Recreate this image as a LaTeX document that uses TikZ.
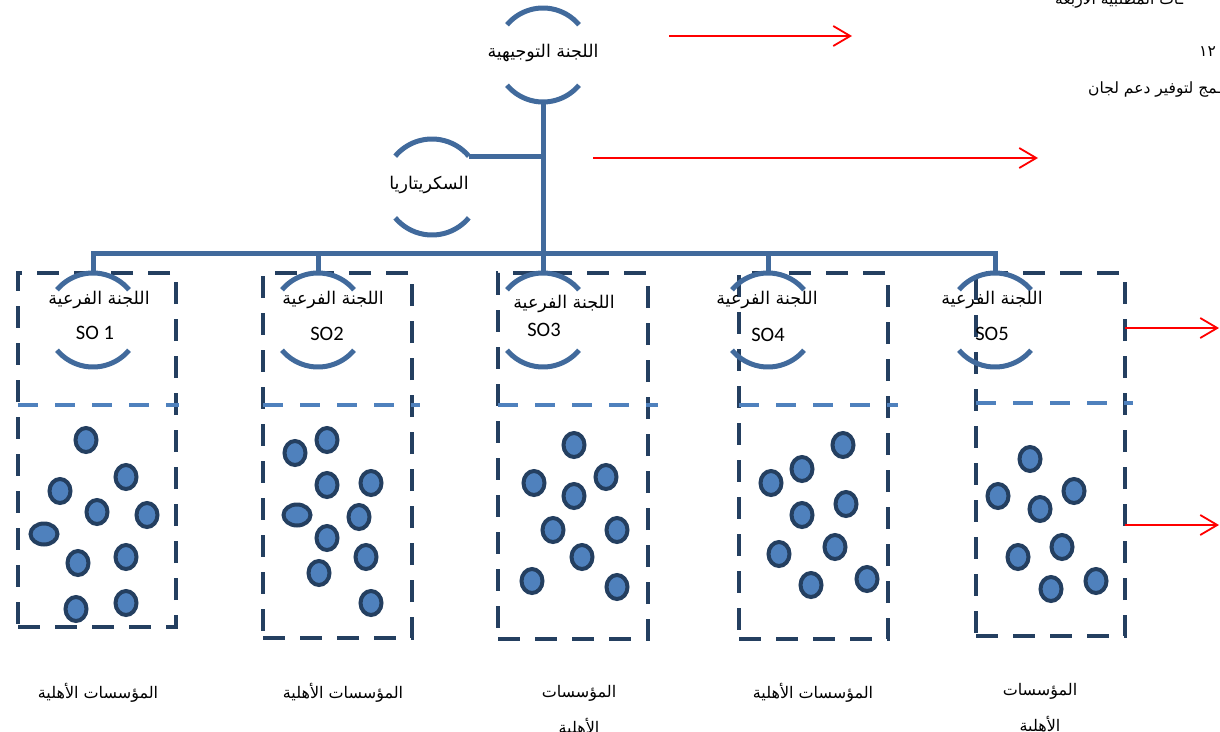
\documentclass[tikz,border=0pt]{standalone}
\usepackage{fontspec}
\usetikzlibrary{arrows.meta,shapes.geometric}
\TeXXeTstate=1
\newfontfamily\arabicfont[Script=Arabic]{DejaVu Sans}
\newfontfamily\calfont{Carlito}
\newcommand\artx[1]{{\arabicfont\beginR #1\endR}}
\definecolor{arcblue}{RGB}{65,106,156}
\definecolor{navy}{RGB}{36,63,96}
\definecolor{dotfill}{RGB}{79,129,189}
\definecolor{arrred}{RGB}{255,0,0}
\newcommand\rings[2]{%
  \draw[arcline] (#1.center) ++(220:#2) arc[start angle=220,end angle=320,radius=#2];
  \draw[arcline] (#1.center) ++(40:#2) arc[start angle=40,end angle=140,radius=#2];}
\begin{document}
\begin{tikzpicture}[x=1pt,y=-1pt,
  arcline/.style={draw=arcblue,line width=5pt},
  trunk/.style={draw=arcblue,line width=5pt},
  ring/.style={circle,minimum size=94pt,inner sep=0pt,outer sep=0pt},
  boxdash/.style={draw=navy,line width=4.5pt,dash pattern=on 22pt off 15pt,inner sep=0pt,outer sep=0pt},
  divline/.style={draw=dotfill,line width=4pt,dash pattern=on 20pt off 17pt},
  dotnode/.style={ellipse,draw=navy,fill=dotfill,line width=4pt,minimum width=21pt,minimum height=24pt,inner sep=0pt},
  hdot/.style={dotnode,minimum width=27pt,minimum height=21pt},
  redarr/.style={draw=arrred,line width=1.8pt,-{Straight Barb[length=17pt,width=20pt,line width=1.8pt]}},
  artext/.style={font=\fontsize{17.5}{20}\selectfont,inner sep=0pt},
  sidetext/.style={font=\fontsize{15.5}{18}\selectfont,inner sep=0pt},
  labtext/.style={font=\fontsize{16}{18}\selectfont,inner sep=0pt},
  sotext/.style={font=\calfont\fontsize{20.5}{22}\selectfont,inner sep=0pt},
]
\useasboundingbox (0,0) rectangle (1220,731);
\clip (0,0) rectangle (1220,731);

% dashed group boxes
\node[boxdash,minimum width=158pt,minimum height=354pt] (box1) at (97,450) {};
\node[boxdash,minimum width=149pt,minimum height=365pt] (box2) at (337.5,455.5) {};
\node[boxdash,minimum width=150pt,minimum height=366pt] (box3) at (573,456) {};
\node[boxdash,minimum width=149pt,minimum height=366pt] (box4) at (813.5,456) {};
\node[boxdash,minimum width=149pt,minimum height=363pt] (box5) at (1050.5,454.5) {};

% dividers
\draw[divline] (18,405) -- (179,405);
\draw[divline] (263,405) -- (420,405);
\draw[divline] (498,405) -- (658,405);
\draw[divline] (739,405) -- (898,405);
\draw[divline] (976,403) -- (1133,403);

% rings
\node[ring] (steer) at (543,55) {};
\node[ring,minimum size=96pt] (sec) at (432,187) {};
\node[ring] (so1) at (93,320) {};
\node[ring] (so2) at (318,320) {};
\node[ring] (so3) at (543,320) {};
\node[ring] (so4) at (768,320) {};
\node[ring] (so5) at (995,320) {};
\rings{steer}{47}
\rings{sec}{48}
\rings{so1}{47}
\rings{so2}{47}
\rings{so3}{47}
\rings{so4}{47}
\rings{so5}{47}

% trunk and bus
\coordinate (bus) at (0,253);
\draw[trunk] (steer.south) -- (steer.south |- bus);
\draw[trunk] (sec.40) -- (sec.40 -| steer.south);
\draw[trunk] (so1.north) -- (so1.north |- bus) -- (so5.north |- bus) -- (so5.north);
\draw[trunk] (so2.north |- bus) -- (so2.north);
\draw[trunk] (so3.north |- bus) -- (so3.north);
\draw[trunk] (so4.north |- bus) -- (so4.north);

% texts in rings
\node[artext] (steert) at (543,53) {\artx{اللجنة التوجيهية}};
\node[artext] (sect) at (429,185) {\artx{السكريتاريا}};
\node[artext] (so1a) at (99,300) {\artx{اللجنة الفرعية}};
\node[sotext] (so1b) at (95,333) {SO 1};
\node[artext] (so2a) at (333,300) {\artx{اللجنة الفرعية}};
\node[sotext] (so2b) at (327,334) {SO2};
\node[artext] (so3a) at (564,304) {\artx{اللجنة الفرعية}};
\node[sotext] (so3b) at (544,330) {SO3};
\node[artext] (so4a) at (767,300) {\artx{اللجنة الفرعية}};
\node[sotext] (so4b) at (768,335) {SO4};
\node[artext] (so5a) at (992,300) {\artx{اللجنة الفرعية}};
\node[sotext] (so5b) at (992,334) {SO5};

% dots box 1
\node[dotnode] (a1) at (86,440) {};
\node[dotnode] (a2) at (126,477) {};
\node[dotnode] (a3) at (60,491) {};
\node[dotnode] (a4) at (97,512) {};
\node[dotnode] (a5) at (147,515) {};
\node[hdot] (a6) at (44,534) {};
\node[dotnode] (a7) at (78,563) {};
\node[dotnode] (a8) at (126,557) {};
\node[dotnode] (a9) at (76,609) {};
\node[dotnode] (a10) at (126,603) {};
% dots box 2
\node[dotnode] (b1) at (295,453) {};
\node[dotnode] (b2) at (327,440) {};
\node[dotnode] (b3) at (327,485) {};
\node[dotnode] (b4) at (371,483) {};
\node[hdot] (b5) at (297,515) {};
\node[dotnode] (b6) at (359,517) {};
\node[dotnode] (b7) at (327,538) {};
\node[dotnode] (b8) at (366,557) {};
\node[dotnode] (b9) at (319,573) {};
\node[dotnode] (b10) at (371,603) {};
% dots box 3
\node[dotnode] (c1) at (574,445) {};
\node[dotnode] (c2) at (606,477) {};
\node[dotnode] (c3) at (534,483) {};
\node[dotnode] (c4) at (574,496) {};
\node[dotnode] (c5) at (553,530) {};
\node[dotnode] (c6) at (617,530) {};
\node[dotnode] (c7) at (582,557) {};
\node[dotnode] (c8) at (532,581) {};
\node[dotnode] (c9) at (617,587) {};
% dots box 4
\node[dotnode] (d1) at (843,445) {};
\node[dotnode] (d2) at (802,469) {};
\node[dotnode] (d3) at (771,483) {};
\node[dotnode] (d4) at (802,515) {};
\node[dotnode] (d5) at (846,504) {};
\node[dotnode] (d6) at (779,554) {};
\node[dotnode] (d7) at (835,547) {};
\node[dotnode] (d8) at (811,585) {};
\node[dotnode] (d9) at (867,579) {};
% dots box 5
\node[dotnode] (e1) at (1030,459) {};
\node[dotnode] (e2) at (998,496) {};
\node[dotnode] (e3) at (1074,491) {};
\node[dotnode] (e4) at (1040,509) {};
\node[dotnode] (e5) at (1018,557) {};
\node[dotnode] (e6) at (1062,547) {};
\node[dotnode] (e7) at (1051,589) {};
\node[dotnode] (e8) at (1096,581) {};

% bottom labels
\node[labtext] (l1) at (98,693) {\artx{المؤسسات الأهلية}};
\node[labtext] (l2) at (343,693) {\artx{المؤسسات الأهلية}};
\node[labtext] (l3a) at (579,693) {\artx{المؤسسات}};
\node[labtext] (l3b) at (579,727) {\artx{الأهلية}};
\node[labtext] (l4) at (813,693) {\artx{المؤسسات الأهلية}};
\node[labtext] (l5a) at (1040,691) {\artx{المؤسسات}};
\node[labtext] (l5b) at (1040,725) {\artx{الأهلية}};

% red arrows
\coordinate (ra1) at (669,36); \coordinate (rb1) at (852,36);
\coordinate (ra2) at (593,158); \coordinate (rb2) at (1038,158);
\coordinate (ra3) at (box5.east |- 0,328); \coordinate (rb3) at (1219,328);
\coordinate (ra4) at (box5.east |- 0,525); \coordinate (rb4) at (1219,525);
\draw[redarr] (ra1) -- (rb1);
\draw[redarr] (ra2) -- (rb2);
\draw[redarr] (ra3) -- (rb3);
\draw[redarr] (ra4) -- (rb4);

% top-right clipped texts
\node[sidetext,anchor=west] (tr1) at (1055,1) {\artx{ـات المطلبية الاربعة}};
\node[sidetext,anchor=west] (tr2) at (1199,52) {\artx{١٢}};
\node[sidetext,anchor=west] (tr3) at (1088,90) {\artx{ـمج لتوفير دعم لجان}};
\end{tikzpicture}
\end{document}
